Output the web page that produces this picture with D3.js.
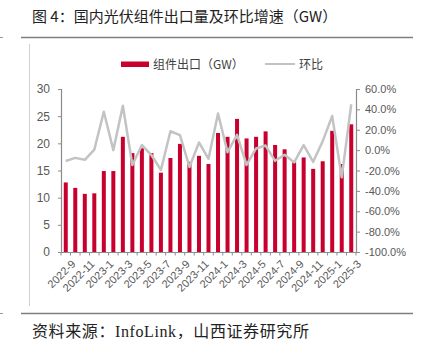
<!DOCTYPE html>
<html><head><meta charset="utf-8">
<script src="https://cdn.jsdelivr.net/npm/d3@7"></script>
<style>body{margin:0;background:#fff}svg{display:block}</style>
</head><body>
<script>
const months = ["2022-9","2022-10","2022-11","2022-12","2023-1","2023-2","2023-3","2023-4","2023-5","2023-6","2023-7","2023-8","2023-9","2023-10","2023-11","2023-12","2024-1","2024-2","2024-3","2024-4","2024-5","2024-6","2024-7","2024-8","2024-9","2024-10","2024-11","2024-12","2025-1","2025-2","2025-3"];
const exportsGW = [12.8,11.8,10.7,10.8,14.9,14.9,21.2,18.2,19.1,18.2,14.6,17.3,19.9,16.6,17.7,16.2,21.9,21.2,24.5,20.9,21.2,22.2,19.7,18.9,16.5,17.4,15.3,16.7,22.3,16.2,23.5];
const momPct = [-10.7,-7.6,-9.5,0.5,37.7,0.0,43.6,-14.6,5.0,-4.8,-19.5,18.5,14.8,-16.5,7.5,-8.5,36.0,-2.0,15.0,-14.6,1.6,4.5,-10.5,-4.5,-12.0,5.0,-11.5,8.8,33.5,-26.7,45.0];
const leftTicks = [0,5,10,15,20,25,30];
const rightTicks = [-100,-80,-60,-40,-20,0,20,40,60];

const W=423,H=339;
const svg=d3.select("body").append("svg").attr("width",W).attr("height",H);
const CJK="'Noto Sans CJK SC','Noto Sans',sans-serif";
const MIX="'Liberation Serif','Noto Sans CJK SC',serif";
const SANS="'Liberation Sans',Arial,sans-serif";

// title
svg.append("text").attr("x",32).attr("y",22).attr("font-family",CJK).attr("font-size",15).attr("fill","#222")
  .text("图 4：国内光伏组件出口量及环比增速（GW）");
svg.append("line").attr("x1",21).attr("x2",413).attr("y1",37.5).attr("y2",37.5).attr("stroke","#7f7f7f").attr("stroke-width",1.5);
svg.append("line").attr("x1",0).attr("x2",3).attr("y1",37.5).attr("y2",37.5).attr("stroke","#999").attr("stroke-width",1);
svg.append("line").attr("x1",29.5).attr("x2",29.5).attr("y1",44).attr("y2",306).attr("stroke","#d0d0d0").attr("stroke-width",1);
svg.append("line").attr("x1",21).attr("x2",413).attr("y1",313.5).attr("y2",313.5).attr("stroke","#7f7f7f").attr("stroke-width",1.5);
svg.append("line").attr("x1",0).attr("x2",3).attr("y1",313.5).attr("y2",313.5).attr("stroke","#999").attr("stroke-width",1);
svg.append("text").attr("x",32).attr("y",337).attr("font-family",MIX).attr("font-size",16).attr("letter-spacing",0.6).attr("fill","#222")
  .text("资料来源：InfoLink，山西证券研究所");

const x0=61,x1=356,yTop=89,yBot=252;
const xb=d3.scaleBand().domain(months).range([x0,x1]);
const yL=d3.scaleLinear().domain([0,30]).range([yBot,yTop]);
const yR=d3.scaleLinear().domain([-100,60]).range([yBot,yTop]);

const axisColor="#8c8c8c", labelColor="#595959";

// bars
svg.append("g").selectAll("rect").data(exportsGW).join("rect")
  .attr("x",(d,i)=>xb(months[i])+xb.bandwidth()/2-2)
  .attr("width",4)
  .attr("y",d=>yL(d)).attr("height",d=>yBot-yL(d)).attr("fill","#c8002e");

// line
const line=d3.line().x((d,i)=>xb(months[i])+xb.bandwidth()/2).y(d=>yR(d));
svg.append("path").datum(momPct).attr("d",line).attr("fill","none").attr("stroke","#c3c3c3").attr("stroke-width",2.5).attr("stroke-linejoin","round");

const gL=svg.append("g").attr("transform",`translate(${x0},0)`).call(d3.axisLeft(yL).tickValues(leftTicks).tickSize(3).tickPadding(8));
const gR=svg.append("g").attr("transform",`translate(${x1},0)`).call(d3.axisRight(yR).tickValues(rightTicks).tickSize(4).tickPadding(5).tickFormat(d=>d.toFixed(1)+"%"));
const gB=svg.append("g").attr("transform",`translate(0,${yBot})`).call(d3.axisBottom(xb).tickSize(0).tickFormat((d,i)=>i%2===0?d:""));
svg.append("g").selectAll("line").data(d3.range(months.length+1)).join("line")
  .attr("x1",i=>x0+i*xb.step()).attr("x2",i=>x0+i*xb.step()).attr("y1",yBot).attr("y2",yBot+3.5)
  .attr("stroke",axisColor).attr("stroke-width",1);

[gL,gR,gB].forEach(g=>{
  g.select(".domain").attr("stroke",axisColor).attr("stroke-width",1.2);
  g.selectAll(".tick line").attr("stroke",axisColor);
  g.selectAll("text").attr("fill",labelColor).attr("font-family",SANS);
});
gL.selectAll("text").attr("font-size",12);
gR.selectAll("text").attr("font-size",11);
gB.selectAll("text").attr("font-size",11).attr("text-anchor","end")
  .attr("transform","translate(3,5) rotate(-45)").attr("dy","0.7em").attr("dx","0");

// legend
const lg=svg.append("g");
lg.append("rect").attr("x",121).attr("y",61.5).attr("width",28).attr("height",5.5).attr("fill","#c8002e");
lg.append("text").attr("x",153).attr("y",68.5).attr("font-family",CJK).attr("font-size",12).attr("fill","#404040").text("组件出口（GW）");
lg.append("line").attr("x1",265).attr("x2",295).attr("y1",64).attr("y2",64).attr("stroke","#c3c3c3").attr("stroke-width",2);
lg.append("text").attr("x",299).attr("y",68.5).attr("font-family",CJK).attr("font-size",12).attr("fill","#404040").text("环比");
</script>
</body></html>
